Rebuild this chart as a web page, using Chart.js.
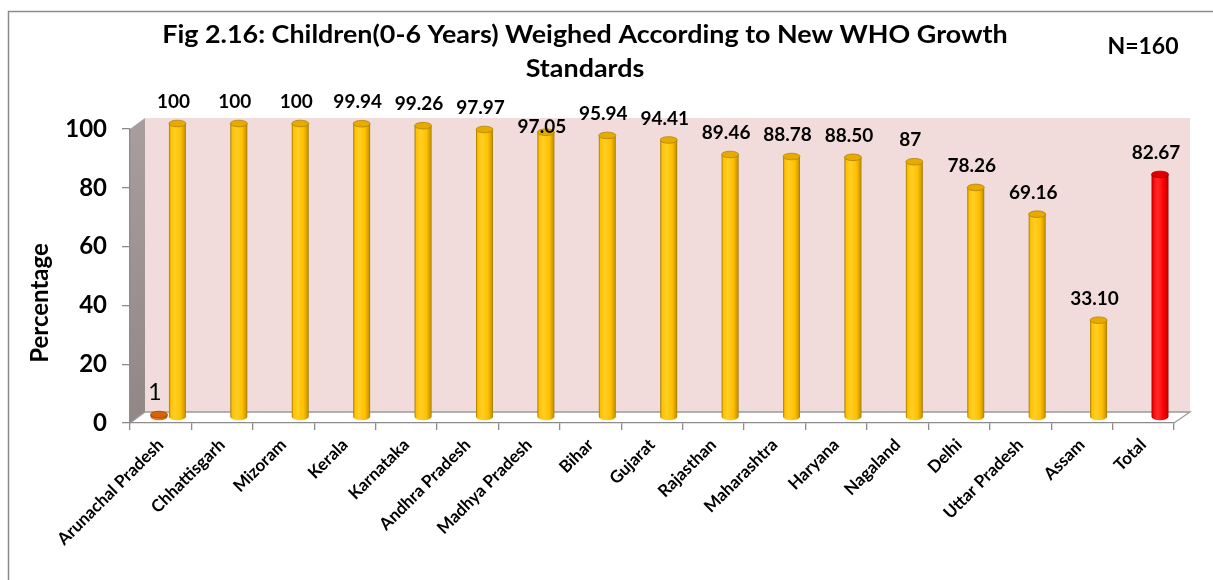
<!DOCTYPE html>
<html>
<head>
<meta charset="utf-8">
<script src="https://cdn.jsdelivr.net/npm/chart.js@4.4.1/dist/chart.umd.min.js"></script>
<style>
  html, body { margin: 0; padding: 0; background: #ffffff; }
  #wrap { position: relative; width: 1213px; height: 580px; }
  canvas { display: block; }
</style>
</head>
<body>
<div id="wrap"><canvas id="chart" width="1213" height="580"></canvas></div>
<script>
// ---- data ----
const categories = [
  'Arunachal Pradesh', 'Chhattisgarh', 'Mizoram', 'Kerala', 'Karnataka',
  'Andhra Pradesh', 'Madhya Pradesh', 'Bihar', 'Gujarat', 'Rajasthan',
  'Maharashtra', 'Haryana', 'Nagaland', 'Delhi', 'Uttar Pradesh', 'Assam', 'Total'
];
const firstSeries = [1, null, null, null, null, null, null, null, null, null, null, null, null, null, null, null, null];
const weighedPercent = [100, 100, 100, 99.94, 99.26, 97.97, 97.05, 95.94, 94.41, 89.46, 88.78, 88.50, 87, 78.26, 69.16, 33.10, 82.67];
const yTickValues = [0, 20, 40, 60, 80, 100];
const chartTitle = ['Fig 2.16: Children(0-6 Years) Weighed According to New WHO Growth', 'Standards'];
const sampleNote = 'N=160';
const yAxisTitle = 'Percentage';

// ---- look ----
const DX = 15, DY = -11;          // depth of the 3-D box
const AXIS_GREY = '#8c8c8c';
const FONT = 'Lato, "Open Sans", sans-serif';
const palette = {
  yellow: { edge: '#9c7400', dark: '#d09a00', mid: '#ffc000', light: '#ffcf26', cap: '#e6aa00', capLine: '#b08400' },
  red:    { edge: '#980000', dark: '#d00000', mid: '#ff0000', light: '#ff2e2e', cap: '#e00000', capLine: '#a00000' },
  orange: { edge: '#a04a05', dark: '#c85a08', mid: '#e46c0a', light: '#f07a18', cap: '#d4640a', capLine: '#a04a05' }
};
const totalIndex = categories.length - 1;

function fmt(v) { return Number.isInteger(v) ? String(v) : v.toFixed(2); }

function wideText(c, text, x, y, sx) {
  c.save();
  c.translate(x, y);
  c.scale(sx, 1);
  c.fillText(text, 0, 0);
  c.restore();
}

// walls and floor of the 3-D box
const boxPlugin = {
  id: 'box',
  beforeDraw(chart) {
    const c = chart.ctx;
    const { left, right, top, bottom } = chart.chartArea;
    c.save();
    // outer frame
    c.strokeStyle = '#8a8a8a';
    c.lineWidth = 1.5;
    c.beginPath();
    c.moveTo(8.5, 580); c.lineTo(8.5, 11.5); c.lineTo(1213, 11.5);
    c.stroke();

    // back wall
    c.fillStyle = '#f2dcdb';
    c.fillRect(left + DX, top + DY, right - left + 1, bottom - top);
    // side wall
    const sg = c.createLinearGradient(0, top + DY, 0, bottom);
    sg.addColorStop(0, '#a89e9e');
    sg.addColorStop(1, '#918787');
    c.fillStyle = sg;
    c.beginPath();
    c.moveTo(left, top); c.lineTo(left + DX, top + DY);
    c.lineTo(left + DX, bottom + DY); c.lineTo(left, bottom);
    c.closePath(); c.fill();
    // floor
    c.fillStyle = '#ffffff';
    c.beginPath();
    c.moveTo(left, bottom); c.lineTo(left + DX, bottom + DY);
    c.lineTo(right + DX + 1, bottom + DY); c.lineTo(right, bottom);
    c.closePath(); c.fill();
    c.strokeStyle = '#9a9a9a';
    c.lineWidth = 1.3;
    c.beginPath();
    c.moveTo(left, bottom); c.lineTo(left + DX, bottom + DY);
    c.lineTo(right + DX + 1, bottom + DY); c.lineTo(right, bottom);
    c.stroke();
    c.restore();
  }
};

// cylinders, drawn from the bar elements at mid depth
function cylinder(c, cx, topY, baseY, w, col) {
  const rx = w / 2, ry = 3.3;
  const g = c.createLinearGradient(cx - rx, 0, cx + rx, 0);
  g.addColorStop(0, col.edge);
  g.addColorStop(0.1, col.mid);
  g.addColorStop(0.35, col.light);
  g.addColorStop(0.7, col.mid);
  g.addColorStop(0.92, col.dark);
  g.addColorStop(1, col.edge);
  c.beginPath();
  c.moveTo(cx - rx, topY);
  c.lineTo(cx - rx, baseY);
  c.ellipse(cx, baseY, rx, ry, 0, Math.PI, 0, true);
  c.lineTo(cx + rx, topY);
  c.closePath();
  c.fillStyle = g;
  c.fill();
  c.beginPath();
  c.ellipse(cx, topY, rx, ry, 0, 0, Math.PI * 2);
  c.fillStyle = col.cap;
  c.fill();
  c.strokeStyle = col.capLine;
  c.lineWidth = 0.8;
  c.stroke();
}

const cylinderPlugin = {
  id: 'cylinders',
  beforeDatasetsDraw(chart) {
    const c = chart.ctx;
    c.save();
    chart.data.datasets.forEach((ds, di) => {
      const meta = chart.getDatasetMeta(di);
      meta.data.forEach((el, i) => {
        const v = ds.data[i];
        if (v === null || v === undefined) return;
        const col = di === 0 ? palette.orange : (i === totalIndex ? palette.red : palette.yellow);
        cylinder(c, el.x + DX / 2, el.y + DY / 2, el.base + DY / 2, el.width, col);
      });
    });
    c.restore();
    return false;
  }
};

// all chart text
const labelShiftY = { 1: { 6: 16 } }; // dataset -> index -> extra drop of the value label
const textPlugin = {
  id: 'texts',
  afterDraw(chart) {
    const c = chart.ctx;
    const { bottom } = chart.chartArea;
    const xs = chart.scales.x, ys = chart.scales.y;
    c.save();
    c.fillStyle = '#000000';
    c.textBaseline = 'middle';

    // title
    c.textAlign = 'center';
    c.font = 'bold 24px ' + FONT;
    wideText(c, chartTitle[0], 585, 35, 1.12);
    wideText(c, chartTitle[1], 585, 69, 1.12);
    c.font = 'bold 23px ' + FONT;
    c.fillText(sampleNote, 1143, 47);

    // y ticks
    c.textAlign = 'right';
    c.font = 'bold 24px ' + FONT;
    yTickValues.forEach(v => c.fillText(String(v), 107, ys.getPixelForValue(v)));

    // y title
    c.save();
    c.translate(40, 303);
    c.rotate(-Math.PI / 2);
    c.textAlign = 'center';
    c.font = 'bold 24px ' + FONT;
    c.fillText(yAxisTitle, 0, 0);
    c.restore();

    // category labels
    c.font = 'bold 17px ' + FONT;
    categories.forEach((name, i) => {
      const x = xs.getPixelForValue(i);
      c.save();
      c.translate(x, bottom + 19);
      c.rotate(-Math.PI / 4);
      c.textAlign = 'right';
      c.fillText(name, 0, 0);
      c.restore();
    });

    // value labels
    c.textAlign = 'center';
    chart.data.datasets.forEach((ds, di) => {
      const meta = chart.getDatasetMeta(di);
      meta.data.forEach((el, i) => {
        const v = ds.data[i];
        if (v === null || v === undefined) return;
        const extra = (labelShiftY[di] && labelShiftY[di][i]) || 0;
        c.font = di === 0 ? '23px ' + FONT : 'bold 19px ' + FONT;
        c.fillText(fmt(v), el.x + DX / 2 - 4, el.y + DY / 2 - 21.5 + extra);
      });
    });
    c.restore();
  }
};

new Chart(document.getElementById('chart'), {
  type: 'bar',
  data: {
    labels: categories,
    datasets: [
      { label: 'first', data: firstSeries, backgroundColor: palette.orange.mid },
      { label: 'weighed', data: weighedPercent,
        backgroundColor: weighedPercent.map((v, i) => i === totalIndex ? palette.red.mid : palette.yellow.mid) }
    ]
  },
  options: {
    responsive: false,
    animation: false,
    layout: { padding: { top: 129, right: 39, left: 0, bottom: 0 } },
    datasets: { bar: { categoryPercentage: 0.6, barPercentage: 0.92 } },
    plugins: { legend: { display: false }, title: { display: false }, tooltip: { enabled: false } },
    scales: {
      x: {
        grid: { offset: true, drawOnChartArea: false, drawTicks: true, tickLength: 7, color: AXIS_GREY, lineWidth: 1.3 },
        border: { color: AXIS_GREY, width: 1.3 },
        ticks: { display: false },
        afterFit(s) { s.height = 157; }
      },
      y: {
        min: 0, max: 100,
        grid: { drawOnChartArea: false, drawTicks: true, tickLength: 8, color: AXIS_GREY, lineWidth: 1.3 },
        border: { color: AXIS_GREY, width: 1.3 },
        ticks: { display: false, stepSize: 20 },
        afterFit(s) { s.width = 130; }
      }
    }
  },
  plugins: [boxPlugin, cylinderPlugin, textPlugin]
});
</script>
</body>
</html>
